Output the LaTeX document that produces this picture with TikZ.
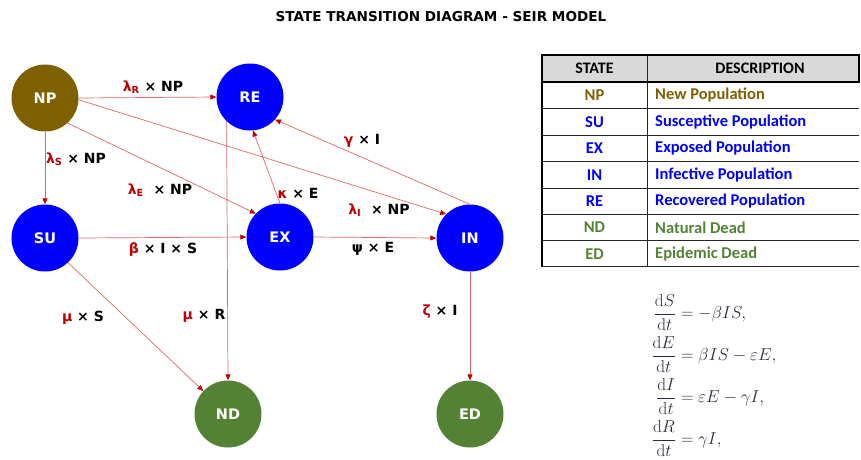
\documentclass[tikz,border=0pt]{standalone}
\usepackage[no-math]{fontspec}
\setmainfont{DejaVu Sans}
\newfontfamily\tabfont{Carlito}
\usetikzlibrary{arrows.meta}
\definecolor{npbrown}{HTML}{7F6000}
\definecolor{stblue}{HTML}{0000FF}
\definecolor{stgreen}{HTML}{548235}
\definecolor{linered}{HTML}{E06666}
\definecolor{tipred}{HTML}{C00000}
\definecolor{lblred}{HTML}{C00000}
\definecolor{eqgray}{HTML}{2A2A3C}
\definecolor{hdrgray}{HTML}{D9D9D9}
\newcommand{\lamsub}[1]{\textcolor{lblred}{λ\textsubscript{#1}}}
\newcommand{\rd}[1]{\textcolor{lblred}{#1}}
\begin{document}
\begin{tikzpicture}[x=1pt,y=-1pt,
  state/.style={circle,minimum size=67pt,inner sep=0pt,text=white,font=\fontsize{14.5}{16}\selectfont\bfseries},
  flow/.style={draw=linered,line width=0.7pt,-{Triangle[length=6pt,width=5pt,color=tipred]}},
  lbl/.style={font=\fontsize{14}{16}\selectfont\bfseries,inner sep=0pt},
  hdr/.style={font=\tabfont\fontsize{16}{18}\selectfont\bfseries,inner sep=0pt},
  cell/.style={font=\tabfont\fontsize{16.5}{18}\selectfont\bfseries,inner sep=0pt},
  eq/.style={font=\fontsize{16}{18}\selectfont,text=eqgray,inner sep=0pt,anchor=base west}
]
\useasboundingbox (0,0) rectangle (861,459);

% title
\node[font=\fontsize{13.6}{16}\selectfont\bfseries] (title) at (441,17) {STATE TRANSITION DIAGRAM - SEIR MODEL};

% states
\node[state,fill=npbrown] (NP) at (45,98) {NP};
\node[state,fill=stblue] (RE) at (250,97) {RE};
\node[state,fill=stblue] (SU) at (45,238) {SU};
\node[state,fill=stblue] (EX) at (280,237) {EX};
\node[state,fill=stblue] (IN) at (470,238) {IN};
\node[state,fill=stgreen] (ND) at (228,414) {ND};
\node[state,fill=stgreen] (ED) at (470,414) {ED};

% flows
\draw[flow] (NP.east) -- (RE.west);
\draw[flow] (NP.south) -- (SU.north);
\draw[flow] (NP.-48) -- (EX.136);
\draw[flow] (NP.-3) -- (IN.135);
\draw[flow] (IN.north) -- (RE.-42);
\draw[flow] (EX.north) -- (RE.-85);
\draw[flow] (RE.-134) -- (ND.north);
\draw[flow] (SU.east) -- (EX.west);
\draw[flow] (EX.east) -- (IN.west);
\draw[flow] (SU.-47) -- (ND.137);
\draw[flow] (IN.south) -- (ED.north);

% labels
\node[lbl] (lR) at (153,87) {\lamsub{R} × NP};
\node[lbl] (lS) at (76,159) {\lamsub{S} × NP};
\node[lbl] (lE) at (160,190) {\lamsub{E}\ \ × NP};
\node[lbl] (lk) at (298,193) {\rd{κ} × E};
\node[lbl] (lg) at (362,141) {\rd{γ} × I};
\node[lbl] (lI) at (379,210) {\lamsub{I}\ \ × NP};
\node[lbl] (lb) at (163,250) {\rd{β} × I × S};
\node[lbl] (lp) at (373,249) {ψ × E};
\node[lbl] (lmS) at (83,318) {\rd{μ} × S};
\node[lbl] (lmR) at (204,316) {\rd{μ} × R};
\node[lbl] (lz) at (440,312) {\rd{ζ} × I};

% table
\fill[hdrgray] (542,55) rectangle (859,82);
\foreach \yy in {108.3,135,161.7,188.3,214,240.7,266.7}
  \draw[line width=0.8pt,black!85] (542,\yy) -- (859,\yy);
\draw[line width=0.8pt,black!85] (647,55) -- (647,266.7);
\draw[line width=2pt] (542,55) rectangle (859,82);
\draw[line width=2.6pt] (542,82) -- (542,267);
\node[hdr] (hS) at (594.5,68.5) {STATE};
\node[hdr] (hD) at (760,68.5) {DESCRIPTION};
\foreach \nm/\ds/\cc/\yy in {NP/New Population/npbrown/95.2,
  SU/Susceptive Population/stblue/121.7,
  EX/Exposed Population/stblue/148.3,
  IN/Infective Population/stblue/175,
  RE/Recovered Population/stblue/201.2,
  ND/Natural Dead/stgreen/227.4,
  ED/Epidemic Dead/stgreen/253.7}{
  \node[cell,text=\cc] (t\nm) at (594.5,\yy) {\nm};
  \node[cell,text=\cc,anchor=west] (d\nm) at (655,\yy) {\ds};
}

% equations
\node[eq] (e1) at (676,318.5) {$\displaystyle\llap{$\displaystyle\frac{\mathrm{d}S}{\mathrm{d}t}$}=-\beta IS,$};
\node[eq] (e2) at (676,360.5) {$\displaystyle\llap{$\displaystyle\frac{\mathrm{d}E}{\mathrm{d}t}$}=\beta IS-\varepsilon E,$};
\node[eq] (e3) at (676,402.5) {$\displaystyle\llap{$\displaystyle\frac{\mathrm{d}I}{\mathrm{d}t}$}=\varepsilon E-\gamma I,$};
\node[eq] (e4) at (676,444.5) {$\displaystyle\llap{$\displaystyle\frac{\mathrm{d}R}{\mathrm{d}t}$}=\gamma I,$};
\end{tikzpicture}
\end{document}
